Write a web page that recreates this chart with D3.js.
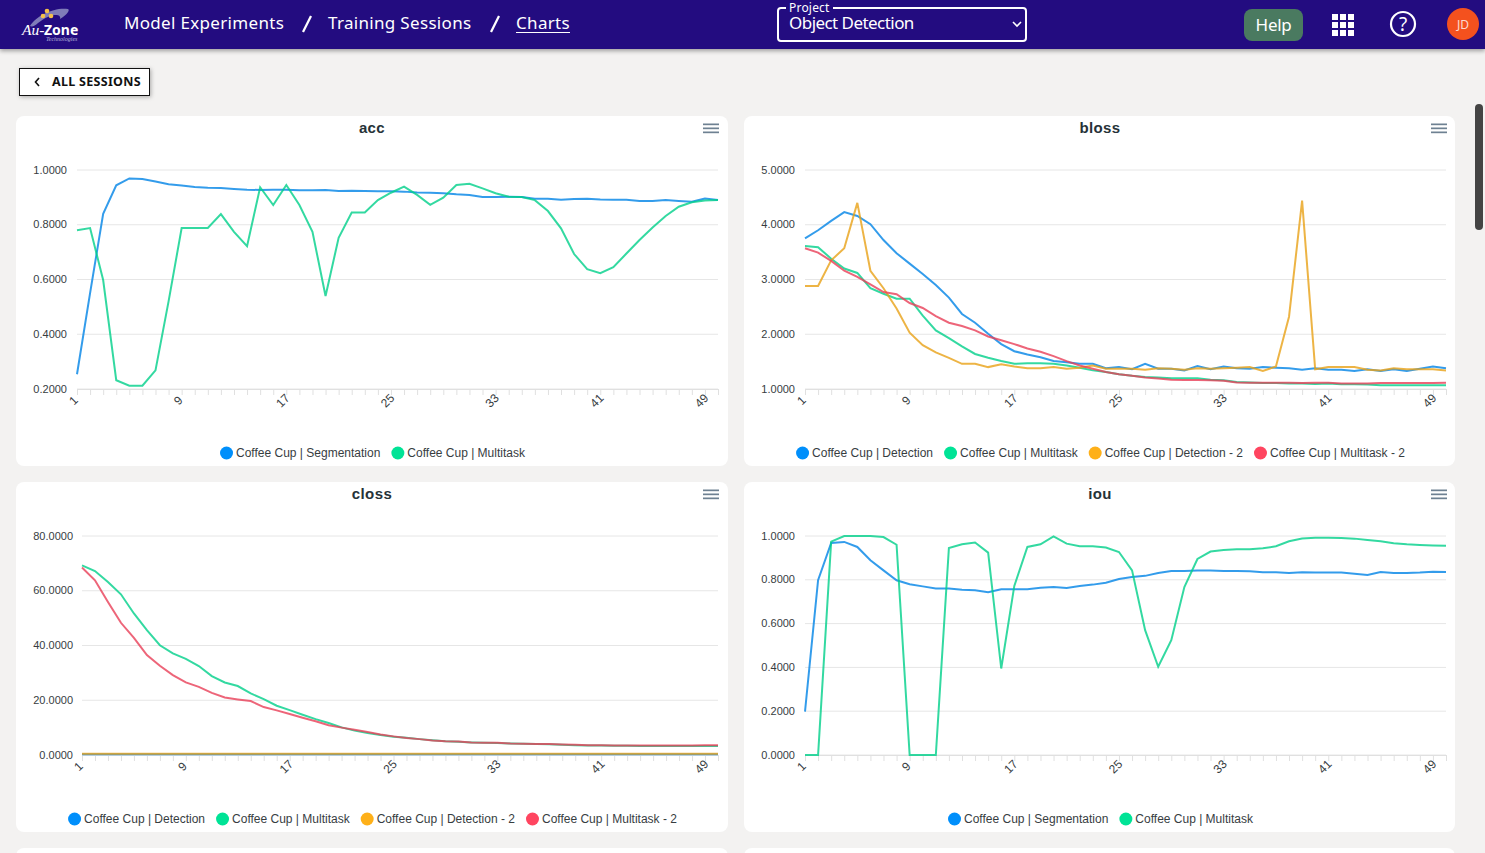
<!DOCTYPE html>
<html>
<head>
<meta charset="utf-8">
<script src="https://cdnjs.cloudflare.com/ajax/libs/d3/7.8.5/d3.min.js"></script>
<style>
  html, body { margin: 0; padding: 0; background: #f3f2f1; overflow: hidden; }
  svg { display: block; }
  .nav { font-family: "Noto Sans", sans-serif; fill: #fff; }
  .chart text { font-family: "Liberation Sans", Arial, sans-serif; }
</style>
</head>
<body>
<svg id="page" width="1485" height="853"></svg>
<script>
// data
const acc_seg = [0.254,0.55,0.84,0.944,0.969,0.967,0.958,0.948,0.943,0.938,0.935,0.934,0.931,0.928,0.927,0.928,0.928,0.926,0.926,0.927,0.923,0.924,0.923,0.922,0.922,0.921,0.918,0.917,0.915,0.911,0.909,0.901,0.901,0.902,0.901,0.895,0.895,0.891,0.894,0.895,0.892,0.891,0.891,0.887,0.887,0.89,0.887,0.884,0.896,0.89]
const acc_multi = [0.78,0.788,0.598,0.232,0.212,0.212,0.268,0.52,0.788,0.788,0.788,0.839,0.774,0.722,0.937,0.872,0.945,0.872,0.774,0.54,0.752,0.845,0.845,0.89,0.917,0.939,0.909,0.873,0.899,0.945,0.95,0.933,0.915,0.902,0.901,0.89,0.85,0.787,0.693,0.638,0.623,0.645,0.695,0.744,0.79,0.832,0.866,0.882,0.889,0.89]

const bloss_det = [3.75,3.9,4.07,4.23,4.16,4.01,3.72,3.48,3.29,3.1,2.9,2.67,2.37,2.21,2.01,1.82,1.69,1.63,1.58,1.51,1.49,1.46,1.46,1.38,1.4,1.36,1.46,1.37,1.37,1.34,1.42,1.36,1.41,1.38,1.37,1.4,1.39,1.38,1.35,1.38,1.35,1.35,1.33,1.36,1.33,1.36,1.33,1.37,1.41,1.38]
const bloss_multi = [3.61,3.59,3.38,3.2,3.12,2.84,2.74,2.65,2.65,2.34,2.07,1.93,1.78,1.64,1.57,1.51,1.46,1.47,1.47,1.46,1.43,1.39,1.34,1.31,1.27,1.24,1.22,1.21,1.195,1.195,1.195,1.17,1.16,1.13,1.12,1.11,1.11,1.1,1.1,1.09,1.1,1.085,1.085,1.08,1.07,1.07,1.07,1.07,1.07,1.07]
const bloss_det2 = [2.88,2.88,3.35,3.57,4.4,3.16,2.84,2.47,2.03,1.8,1.67,1.57,1.46,1.46,1.4,1.45,1.41,1.38,1.38,1.4,1.37,1.39,1.43,1.37,1.37,1.37,1.35,1.38,1.37,1.35,1.38,1.37,1.38,1.39,1.4,1.33,1.41,2.32,4.44,1.36,1.4,1.4,1.4,1.35,1.34,1.38,1.36,1.36,1.36,1.34]
const bloss_multi2 = [3.57,3.49,3.34,3.16,3.05,2.91,2.77,2.73,2.57,2.48,2.33,2.21,2.15,2.07,1.96,1.89,1.82,1.74,1.68,1.6,1.51,1.43,1.37,1.31,1.27,1.24,1.21,1.19,1.17,1.165,1.165,1.16,1.15,1.12,1.115,1.115,1.115,1.115,1.11,1.115,1.115,1.1,1.1,1.1,1.11,1.11,1.11,1.11,1.11,1.115]

const closs_det = [0.28,0.28,0.28,0.28,0.28,0.28,0.28,0.28,0.28,0.28,0.28,0.28,0.28,0.28,0.28,0.28,0.28,0.28,0.28,0.28,0.28,0.28,0.28,0.28,0.28,0.28,0.28,0.28,0.28,0.28,0.28,0.28,0.28,0.28,0.28,0.28,0.28,0.28,0.28,0.28,0.28,0.28,0.28,0.28,0.28,0.28,0.28,0.28,0.28,0.28]
const closs_multi = [69.3,67.2,63.2,58.7,51.7,45.6,40.1,37.1,35.1,32.5,28.8,26.5,25.2,22.5,20.4,18,16.4,14.7,13.1,11.7,10.1,8.9,8,7.3,6.7,6.3,5.8,5.4,5,4.8,4.6,4.5,4.4,4.2,4.1,4,3.9,3.7,3.6,3.5,3.5,3.4,3.4,3.3,3.3,3.3,3.3,3.3,3.3,3.3]
const closs_det2 = [0.42,0.42,0.42,0.42,0.42,0.42,0.42,0.42,0.42,0.42,0.42,0.42,0.42,0.42,0.42,0.42,0.42,0.42,0.42,0.42,0.42,0.42,0.42,0.42,0.42,0.42,0.42,0.42,0.42,0.42,0.42,0.42,0.42,0.42,0.42,0.42,0.42,0.42,0.42,0.42,0.42,0.42,0.42,0.42,0.42,0.42,0.42,0.42,0.42,0.42]
const closs_multi2 = [68.5,63.8,55.9,48.3,42.8,36.5,32.6,29.2,26.5,24.9,22.7,21,20.3,19.7,17.5,16.3,15,13.6,12.3,10.9,10,9.2,8.4,7.5,6.8,6.2,5.8,5.3,5,4.9,4.6,4.5,4.5,4.2,4.1,4,4,3.8,3.7,3.6,3.6,3.5,3.5,3.5,3.5,3.5,3.5,3.5,3.6,3.6]

const iou_seg = [0.198,0.798,0.968,0.973,0.95,0.889,0.843,0.798,0.78,0.77,0.76,0.76,0.755,0.752,0.743,0.757,0.757,0.757,0.764,0.767,0.763,0.772,0.778,0.787,0.804,0.813,0.818,0.831,0.84,0.84,0.842,0.843,0.84,0.84,0.839,0.834,0.834,0.831,0.834,0.833,0.833,0.833,0.828,0.822,0.836,0.831,0.831,0.833,0.837,0.836]
const iou_multi = [0,0,0.974,1,1,1,0.995,0.96,0,0,0,0.945,0.962,0.97,0.924,0.395,0.772,0.95,0.962,0.998,0.965,0.953,0.953,0.947,0.927,0.843,0.57,0.403,0.524,0.767,0.895,0.929,0.936,0.939,0.939,0.944,0.953,0.976,0.989,0.992,0.992,0.991,0.988,0.982,0.976,0.967,0.962,0.959,0.957,0.956]

const epochs = d3.range(1, 51)
const acc_ticks = [0.2, 0.4, 0.6, 0.8, 1.0]
const bloss_ticks = [1, 2, 3, 4, 5]
const closs_ticks = [0, 20, 40, 60, 80]
const iou_ticks = [0, 0.2, 0.4, 0.6, 0.8, 1.0]

const seg = { name: 'Coffee Cup | Segmentation', color: '#008ffb' }
const det = { name: 'Coffee Cup | Detection', color: '#008ffb' }
const multi = { name: 'Coffee Cup | Multitask', color: '#00e396' }
const det2 = { name: 'Coffee Cup | Detection - 2', color: '#feb019' }
const multi2 = { name: 'Coffee Cup | Multitask - 2', color: '#ff4560' }

const charts = [
  { title: 'acc', x: 16, y: 116, left: 61, pad: 10, ticks: acc_ticks, series: [[seg, acc_seg], [multi, acc_multi]] },
  { title: 'bloss', x: 744, y: 116, left: 61, pad: 10, ticks: bloss_ticks, series: [[det, bloss_det], [multi, bloss_multi], [det2, bloss_det2], [multi2, bloss_multi2]] },
  { title: 'closs', x: 16, y: 482, left: 66, pad: 9, ticks: closs_ticks, series: [[det, closs_det], [multi, closs_multi], [det2, closs_det2], [multi2, closs_multi2]] },
  { title: 'iou', x: 744, y: 482, left: 61, pad: 10, ticks: iou_ticks, series: [[seg, iou_seg], [multi, iou_multi]] }
]

const svg = d3.select('#page')

function draw_header() {
  // cards of the next row peek in at the bottom
  svg.append('rect').attr('x', 16).attr('y', 848).attr('width', 712).attr('height', 40).attr('rx', 8).attr('fill', '#fff')
  svg.append('rect').attr('x', 744).attr('y', 848).attr('width', 711).attr('height', 40).attr('rx', 8).attr('fill', '#fff')

  svg.append('rect').attr('width', 1485).attr('height', 49).attr('fill', '#230c80')
    .style('filter', 'drop-shadow(0 2px 2px rgba(0,0,0,0.35))')

  // logo
  const logo = svg.append('g')
  logo.append('path').attr('d', 'M30 26 C36 16 54 7 68 9 C70 10 68 14 60 19 C62 13 50 13 38 23 C35 26 32 27 30 26 Z').attr('fill', '#7f7cb8')
  logo.selectAll('circle').data([[47, 11], [43, 16], [51, 16]]).join('circle')
    .attr('cx', d => d[0]).attr('cy', d => d[1]).attr('r', 2.3).attr('fill', '#f5c04a')
  logo.append('text').attr('x', 22).attr('y', 35).attr('fill', '#fff')
    .style('font', 'italic 15.5px "Liberation Serif", serif').text('Au-')
  logo.append('text').attr('x', 44).attr('y', 35).attr('fill', '#fff')
    .style('font', 'bold 14px "Noto Sans", sans-serif').text('Zone')
  logo.append('text').attr('x', 46).attr('y', 41).attr('fill', '#b9b6dc')
    .style('font', 'italic 6px "Liberation Serif", serif').text('Technologies')

  // breadcrumb
  const crumbs = [['Model Experiments', 124], ['Training Sessions', 328], ['Charts', 516]]
  crumbs.forEach(function (c) {
    svg.append('text').attr('class', 'nav').attr('x', c[1]).attr('y', 29)
      .style('font-size', '17px').style('letter-spacing', '0.32px').text(c[0])
  })
  svg.append('line').attr('x1', 516).attr('x2', 570).attr('y1', 32.5).attr('y2', 32.5).attr('stroke', '#fff').attr('stroke-width', 1.2)
  ;[[303, 311], [491, 499]].forEach(function (s) {
    svg.append('line').attr('x1', s[0]).attr('x2', s[1]).attr('y1', 32).attr('y2', 16).attr('stroke', '#fff').attr('stroke-width', 2.2)
  })

  // project select
  svg.append('rect').attr('x', 778).attr('y', 8).attr('width', 248).attr('height', 33).attr('rx', 3)
    .attr('fill', 'none').attr('stroke', '#fff').attr('stroke-width', 2)
  svg.append('rect').attr('x', 786).attr('y', 2).attr('width', 47).attr('height', 10).attr('fill', '#230c80')
  svg.append('text').attr('class', 'nav').attr('x', 789).attr('y', 11.5).style('font-size', '12px').style('letter-spacing', '0.2px').text('Project')
  svg.append('text').attr('class', 'nav').attr('x', 789).attr('y', 29).style('font-size', '17px').style('letter-spacing', '-0.55px').text('Object Detection')
  svg.append('path').attr('d', 'M1013 22 L1017 26 L1021 22').attr('fill', 'none').attr('stroke', '#fff').attr('stroke-width', 1.6)

  // help button, app grid, question mark, avatar
  svg.append('rect').attr('x', 1244).attr('y', 9).attr('width', 59).attr('height', 32).attr('rx', 8).attr('fill', '#4a7a60')
  svg.append('text').attr('class', 'nav').attr('x', 1273.5).attr('y', 31).attr('text-anchor', 'middle').style('font-size', '17px').style('letter-spacing', '-0.3px').text('Help')
  d3.range(3).forEach(function (r) {
    d3.range(3).forEach(function (c) {
      svg.append('rect').attr('x', 1332 + c * 8).attr('y', 14 + r * 8).attr('width', 6).attr('height', 6).attr('fill', '#fff')
    })
  })
  svg.append('circle').attr('cx', 1403).attr('cy', 24).attr('r', 12).attr('fill', 'none').attr('stroke', '#fff').attr('stroke-width', 2.2)
  svg.append('text').attr('class', 'nav').attr('x', 1403).attr('y', 31).attr('text-anchor', 'middle').style('font-size', '19px').text('?')
  svg.append('circle').attr('cx', 1463).attr('cy', 24).attr('r', 16).attr('fill', '#f4511e')
  svg.append('text').attr('class', 'nav').attr('x', 1463).attr('y', 29).attr('text-anchor', 'middle').style('font-size', '12px').attr('fill-opacity', 0.8).text('JD')

  // back button
  svg.append('rect').attr('x', 19.5).attr('y', 68.5).attr('width', 130).attr('height', 27).attr('fill', '#fff')
    .attr('stroke', '#111').style('filter', 'drop-shadow(1px 1px 2px rgba(0,0,0,0.3))')
  svg.append('path').attr('d', 'M39 78 L35.5 82 L39 86').attr('fill', 'none').attr('stroke', '#111').attr('stroke-width', 1.6)
  svg.append('text').attr('x', 52).attr('y', 86).attr('fill', '#111')
    .style('font', '700 12.5px "Noto Sans", sans-serif').style('letter-spacing', '0.3px').text('ALL SESSIONS')

  // page scrollbar
  svg.append('rect').attr('x', 1475).attr('y', 104).attr('width', 8).attr('height', 126).attr('rx', 4).attr('fill', '#444')
}

function draw_chart(chart) {
  const width = chart.x === 16 ? 712 : 711
  const height = 350
  const g = svg.append('g').attr('class', 'chart').attr('transform', 'translate(' + chart.x + ',' + chart.y + ')')
  g.append('rect').attr('width', width).attr('height', height).attr('rx', 8).attr('fill', '#fff')

  g.append('text').attr('x', 356).attr('y', 17).attr('text-anchor', 'middle')
    .attr('fill', '#263238').style('font-size', '15px').style('letter-spacing', '0.4px').style('font-weight', 700).text(chart.title)

  // hamburger menu
  ;[8, 12, 16].forEach(function (dy) {
    g.append('rect').attr('x', 687).attr('y', dy - 0.5).attr('width', 16).attr('height', 1.7).attr('fill', '#6e8192')
  })

  const x = d3.scaleLinear().domain([1, 50]).range([chart.left, 702])
  const y = d3.scaleLinear().domain(d3.extent(chart.ticks)).range([273, 54])

  const y_axis = g.append('g').attr('transform', 'translate(' + chart.left + ',0)')
    .call(d3.axisLeft(y).tickValues(chart.ticks).tickSize(-(702 - chart.left)).tickPadding(chart.pad).offset(0).tickFormat(d3.format('.4f')))
  y_axis.select('.domain').remove()
  y_axis.selectAll('line').attr('stroke', '#e6e6e6')
  y_axis.selectAll('text').attr('fill', '#373d3f').style('font-size', '11px')

  const x_axis = g.append('g').attr('transform', 'translate(0,273)')
    .call(d3.axisBottom(x).tickValues(epochs).tickSize(6).tickFormat(d => (d - 1) % 8 === 0 ? d : ''))
  x_axis.select('.domain').attr('stroke', '#e0e0e0')
  x_axis.selectAll('line').attr('stroke', '#e0e0e0')
  x_axis.selectAll('text').attr('fill', '#373d3f').style('font-size', '12px')
    .attr('y', 0).attr('dy', '0.35em').attr('text-anchor', 'middle')
    .attr('transform', 'translate(-4,11.5) rotate(-45)')

  const line = d3.line().x((d, i) => x(epochs[i])).y(d => y(d))
  chart.series.forEach(function (s) {
    g.append('path').datum(s[1]).attr('d', line).attr('fill', 'none')
      .attr('stroke', d3.color(s[0].color).darker(0.25)).attr('stroke-opacity', 0.8).attr('stroke-width', 2)
  })

  // legend, centred under the card
  const legend = g.append('g')
  let cursor = 0
  chart.series.forEach(function (s) {
    legend.append('circle').attr('cx', cursor + 6.5).attr('r', 6.5).attr('fill', s[0].color)
    const label = legend.append('text').attr('x', cursor + 16).attr('y', 4).attr('fill', '#373d3f')
      .style('font-size', '12px').text(s[0].name)
    cursor += 16 + label.node().getComputedTextLength() + 11
  })
  legend.attr('transform', 'translate(' + (356.5 - (cursor - 11) / 2) + ',337)')
}

draw_header()
charts.map(draw_chart)
</script>
</body>
</html>
